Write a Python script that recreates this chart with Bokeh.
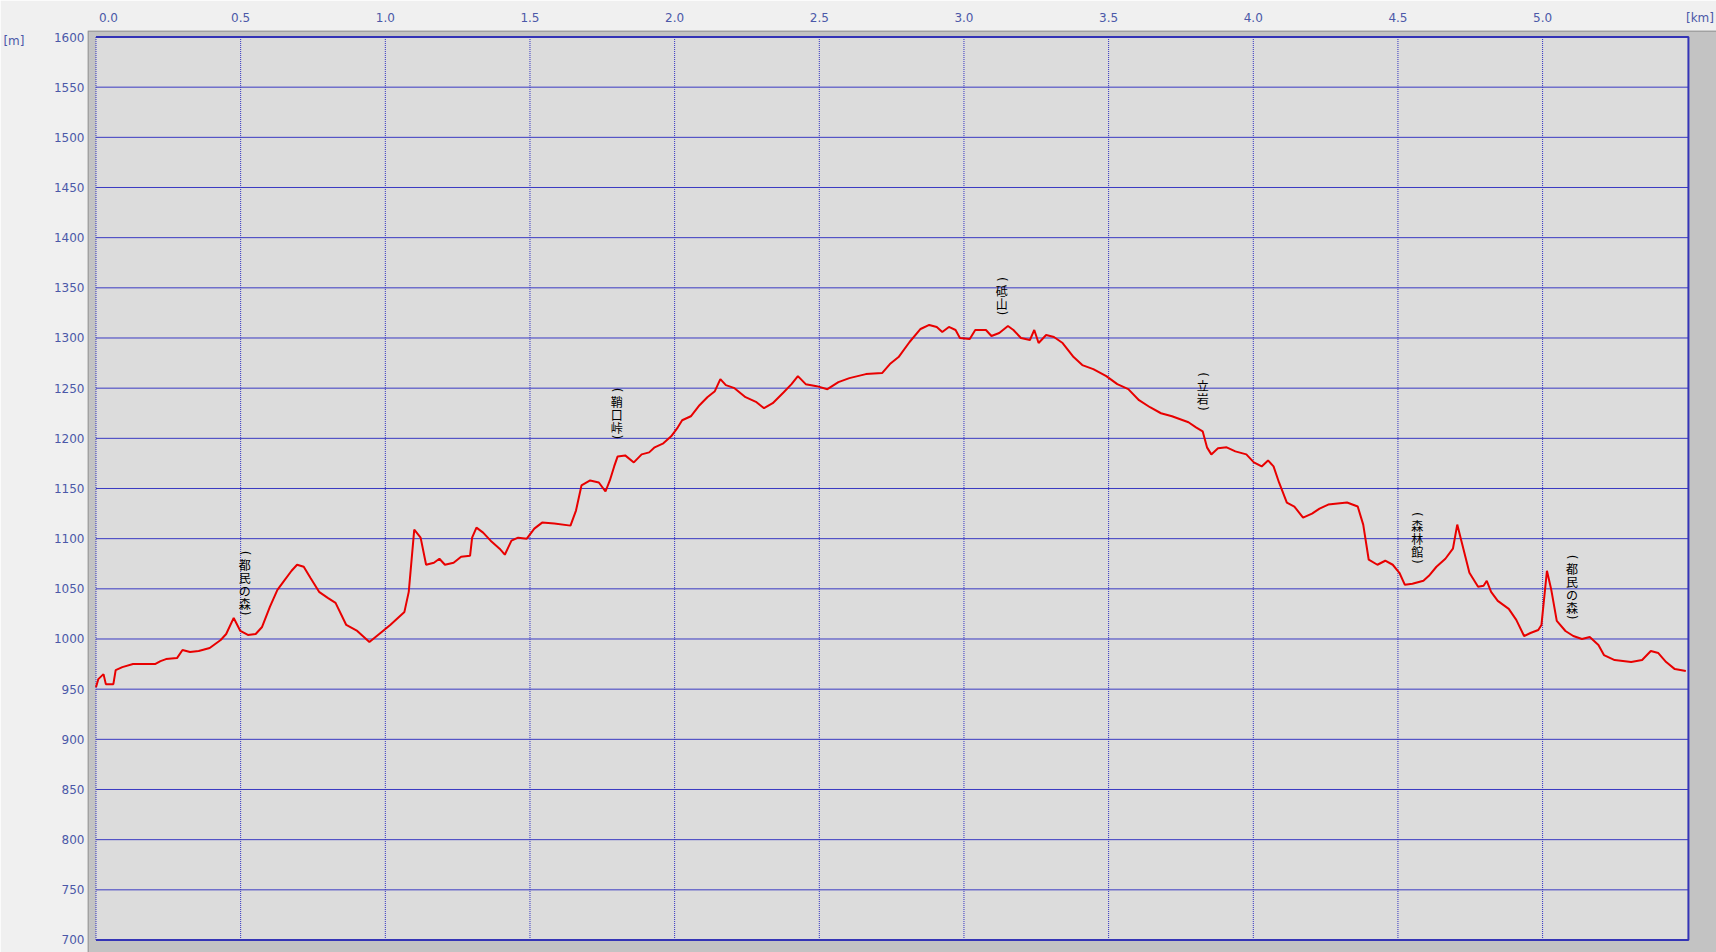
import math
from bokeh.plotting import figure
from bokeh.models import Range1d, LinearAxis, FixedTicker
from bokeh.core.properties import value
from bokeh.embed import file_html
from bokeh.resources import INLINE

# ---- data (distance in km, elevation in m) ----
dist_km = [0.000, 0.008, 0.026, 0.034, 0.060, 0.068, 0.091, 0.128, 0.204, 0.223,
           0.242, 0.280, 0.299, 0.325, 0.355, 0.393, 0.431, 0.450, 0.476, 0.499,
           0.525, 0.552, 0.574, 0.601, 0.627, 0.650, 0.676, 0.695, 0.718, 0.741,
           0.771, 0.801, 0.828, 0.865, 0.903, 0.945, 0.979, 1.017, 1.066, 1.081,
           1.100, 1.122, 1.141, 1.168, 1.187, 1.206, 1.236, 1.262, 1.293, 1.300,
           1.315, 1.338, 1.364, 1.395, 1.413, 1.436, 1.459, 1.489, 1.515, 1.542,
           1.584, 1.640, 1.659, 1.678, 1.708, 1.738, 1.761, 1.776, 1.791, 1.803,
           1.829, 1.859, 1.886, 1.912, 1.931, 1.961, 1.988, 2.011, 2.026, 2.056,
           2.086, 2.113, 2.139, 2.158, 2.177, 2.207, 2.245, 2.283, 2.309, 2.339,
           2.377, 2.404, 2.426, 2.453, 2.491, 2.528, 2.566, 2.604, 2.661, 2.717,
           2.744, 2.774, 2.812, 2.850, 2.880, 2.906, 2.925, 2.948, 2.971, 2.986,
           3.020, 3.039, 3.076, 3.095, 3.122, 3.152, 3.171, 3.197, 3.228, 3.243,
           3.258, 3.284, 3.311, 3.341, 3.379, 3.409, 3.447, 3.492, 3.530, 3.568,
           3.605, 3.643, 3.681, 3.719, 3.776, 3.802, 3.825, 3.840, 3.855, 3.878,
           3.908, 3.938, 3.976, 4.002, 4.029, 4.051, 4.070, 4.089, 4.116, 4.142,
           4.172, 4.203, 4.229, 4.259, 4.324, 4.361, 4.380, 4.399, 4.429, 4.456,
           4.482, 4.505, 4.524, 4.550, 4.588, 4.607, 4.633, 4.664, 4.690, 4.705,
           4.720, 4.747, 4.777, 4.796, 4.807, 4.822, 4.845, 4.883, 4.909, 4.936,
           4.958, 4.985, 4.996, 5.015, 5.030, 5.049, 5.079, 5.106, 5.136, 5.163,
           5.193, 5.212, 5.249, 5.306, 5.344, 5.374, 5.400, 5.427, 5.457, 5.495]
elev_m = [952, 960, 965, 955, 955, 969, 972, 975, 975, 978,
          980, 981, 989, 987, 988, 991, 999, 1005, 1021, 1008,
          1004, 1005, 1012, 1032, 1049, 1058, 1068, 1074, 1072, 1061,
          1047, 1041, 1036, 1014, 1008, 997, 1005, 1014, 1027, 1047,
          1109, 1101, 1074, 1076, 1080, 1074, 1076, 1082, 1083, 1101,
          1111, 1106, 1098, 1090, 1084, 1098, 1101, 1100, 1110, 1116,
          1115, 1113, 1128, 1153, 1158, 1156, 1147, 1158, 1172, 1182,
          1183, 1176, 1184, 1186, 1191, 1195, 1202, 1211, 1218, 1222,
          1233, 1241, 1247, 1259, 1253, 1250, 1241, 1236, 1230, 1235,
          1246, 1254, 1262, 1254, 1252, 1249, 1256, 1260, 1264, 1265,
          1274, 1281, 1296, 1309, 1313, 1311, 1306, 1311, 1308, 1300,
          1299, 1308, 1308, 1302, 1305, 1312, 1308, 1300, 1298, 1308,
          1295, 1303, 1301, 1295, 1281, 1273, 1269, 1262, 1254, 1249,
          1238, 1231, 1225, 1222, 1216, 1211, 1207, 1191, 1184, 1190,
          1191, 1187, 1184, 1176, 1172, 1178, 1172, 1156, 1136, 1132,
          1121, 1125, 1130, 1134, 1136, 1132, 1114, 1079, 1074, 1078,
          1074, 1066, 1054, 1055, 1058, 1063, 1072, 1080, 1090, 1114,
          1097, 1066, 1052, 1053, 1058, 1047, 1038, 1030, 1019, 1003,
          1006, 1009, 1014, 1068, 1049, 1018, 1008, 1003, 1000, 1002,
          994, 984, 979, 977, 979, 988, 986, 977, 970, 968]

# place-name annotations (vertical text)
place_names = ["都民の森", "鞘口峠", "砥山", "立岩", "森林館", "都民の森"]
place_km = [0.514, 1.800, 3.131, 3.825, 4.567, 5.102]
place_elev = [1055, 1224, 1341, 1246, 1100, 1051]

# ticks
x_ticks = [0.0, 0.5, 1.0, 1.5, 2.0, 2.5, 3.0, 3.5, 4.0, 4.5, 5.0]
x_tick_labels = ["0.0", "0.5", "1.0", "1.5", "2.0", "2.5", "3.0", "3.5", "4.0", "4.5", "5.0"]
y_ticks = [700, 750, 800, 850, 900, 950, 1000, 1050, 1100, 1150, 1200,
           1250, 1300, 1350, 1400, 1450, 1500, 1550, 1600]
x_unit_label = "[km]"
y_unit_label = "[m]"

# ---- layout constants ----
W, H = 1716, 952
X_END = 5.504          # right edge of the profile area (km)
Y_MIN, Y_MAX = 700, 1600
PX_PER_KM = 289.5
PX_PER_M = 1.00333
FRAME_H = H - 30
XR = (-8.5 / PX_PER_KM, (W - 94.5) / PX_PER_KM)
Y_TOP = 1600 + 6.5 / PX_PER_M
YR = (Y_TOP - FRAME_H / PX_PER_M, Y_TOP)

GRID = "#3a3ac2"
VGRID = "#2f2fc0"
BORDER = "#3434b6"
LABEL = "#4b58a8"
LINE_RED = "#e80000"

p = figure(width=W, height=H, output_backend="svg", toolbar_location=None,
           x_range=Range1d(*XR), y_range=Range1d(*YR),
           x_axis_location=None, y_axis_location=None,
           min_border_left=86, min_border_right=0, min_border_top=30, min_border_bottom=0)
for r in list(p.center):
    r.visible = False
p.background_fill_color = "#c3c3c3"
p.border_fill_color = "#f0f0f0"
p.outline_line_color = None

# dark edge on frame left/top
dx = 0.6 / PX_PER_KM
dy = 0.6 / PX_PER_M
p.line(x=[XR[0] + dx, XR[0] + dx, XR[1]], y=[YR[0], YR[1] - dy, YR[1] - dy],
       line_color="#8a8a8a", line_width=1)

# inner plotting area
p.quad(left=[0], right=[X_END], bottom=[Y_MIN], top=[Y_MAX],
       fill_color="#dcdcdc", line_color=None)

hy = [v for v in y_ticks if Y_MIN < v < Y_MAX]
p.multi_line(xs=[[0, X_END] for _ in hy], ys=[[v, v] for v in hy],
             line_color=GRID, line_width=1)
p.multi_line(xs=[[v, v] for v in x_ticks], ys=[[Y_MIN, Y_MAX] for _ in x_ticks],
             line_color=VGRID, line_width=1, line_dash="1 1")
p.line(x=[0, X_END, X_END, 0], y=[Y_MAX, Y_MAX, Y_MIN, Y_MIN],
       line_color=BORDER, line_width=2)

# profile
p.line(dist_km, elev_m, line_color=LINE_RED, line_width=2)

# vertical place names: one glyph per character, stacked downwards
CH_STEP = 13.2
cx, cy, coff, ctxt = [], [], [], []
qx, qy, qoff, qtxt = [], [], [], []
for name, xk, ye in zip(place_names, place_km, place_elev):
    n = len(name)
    offs = [(k - (n - 1) / 2) * CH_STEP for k in range(n)]
    for ch, o in zip(name, offs):
        cx.append(xk); cy.append(ye); coff.append(o); ctxt.append(ch)
    qx += [xk, xk]; qy += [ye, ye]
    qoff += [offs[0] - 11, offs[-1] + 9.5]
    qtxt += ["(", ")"]
p.text(x=cx, y=cy, text=ctxt, y_offset=coff, text_align="center",
       text_baseline="middle", text_font=value("Noto Sans CJK JP"),
       text_font_size="12px", text_color="#000000")
p.text(x=qx, y=qy, text=qtxt, y_offset=qoff, angle=-math.pi / 2,
       text_align="center", text_baseline="middle",
       text_font=value("DejaVu Sans"), text_font_size="12px", text_color="#000000")

# axes
axis_style = dict(axis_line_color=None, major_tick_line_color=None,
                  minor_tick_line_color=None, major_tick_in=0, major_tick_out=0,
                  major_label_text_font="DejaVu Sans",
                  major_label_text_font_size="12px",
                  major_label_text_color=LABEL)

yax = LinearAxis(ticker=FixedTicker(ticks=y_ticks), major_label_standoff=3, **axis_style)
p.add_layout(yax, "left")

unit_y = 1596
yax2 = LinearAxis(ticker=FixedTicker(ticks=[unit_y]), major_label_standoff=26,
                  major_label_overrides={float(unit_y): y_unit_label}, **axis_style)
p.add_layout(yax2, "left")

x_label_pos = [0.043] + x_ticks[1:] + [5.544]
x_label_txt = x_tick_labels + [x_unit_label]
xax = LinearAxis(ticker=FixedTicker(ticks=x_label_pos), major_label_standoff=6,
                 major_label_overrides={float(k): t for k, t in zip(x_label_pos, x_label_txt)},
                 **axis_style)
p.add_layout(xax, "above")

open("out.html", "w").write(file_html(p, INLINE))
